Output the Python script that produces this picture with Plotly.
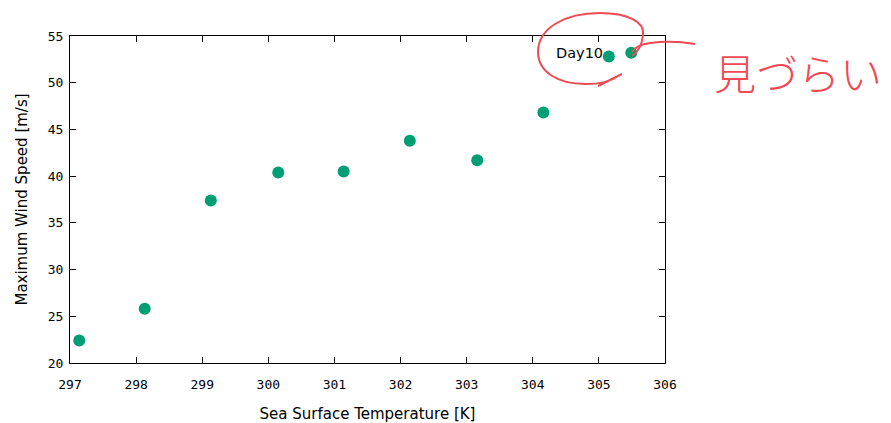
import plotly.graph_objects as go

sst = [297.14, 298.13, 299.13, 300.15, 301.14, 302.14, 303.16, 304.16, 305.15, 305.49]
wind = [22.4, 25.8, 37.4, 40.4, 40.5, 43.8, 41.7, 46.8, 52.8, 53.2]
label_text = "Day10"
note_text = "見づらい"

W, H = 891, 423
L, R, T, B = 70, 226, 36, 60
pw, ph = W - L - R, H - T - B

def px(x):
    return (x - L) / pw

def py(y):
    return (H - B - y) / ph

def P(x, y):
    return "{:.4f},{:.4f}".format(px(x), py(y))

fig = go.Figure()
fig.add_trace(go.Scatter(x=sst, y=wind, mode="markers",
                         marker=dict(color="#009e73", size=12, line=dict(width=0)),
                         showlegend=False, hoverinfo="skip"))

tickfont = dict(family="DejaVu Sans Mono", size=13, color="black")
axis_common = dict(showgrid=False, zeroline=False, showline=True, linecolor="black",
                   linewidth=1, mirror="ticks", ticks="inside", ticklen=6,
                   tickcolor="black", tickfont=tickfont, automargin=False)
fig.update_xaxes(range=[297, 306], dtick=1, tick0=297, ticklabelstandoff=9,
                 title=dict(text="Sea Surface Temperature [K]",
                            font=dict(family="DejaVu Sans", size=15, color="black"), standoff=20),
                 **axis_common)
fig.update_yaxes(range=[20, 55], dtick=5, tick0=20, ticklabelstandoff=3,
                 title=dict(text="Maximum Wind Speed [m/s]",
                            font=dict(family="DejaVu Sans", size=15, color="black"), standoff=16),
                 **axis_common)

fig.add_annotation(x=sst[-1], y=wind[-1], text=label_text, showarrow=False,
                   xanchor="right", yanchor="middle", xshift=-26, yshift=0,
                   font=dict(family="DejaVu Sans", size=14.5, color="black"))

red = "#f04a55"
ell = ("M " + P(620, 75) +
       " C " + P(610, 82) + " " + P(600, 84) + " " + P(585, 84) +
       " C " + P(558, 84) + " " + P(538, 72) + " " + P(538, 52) +
       " C " + P(538, 28) + " " + P(565, 13) + " " + P(600, 13) +
       " C " + P(628, 13) + " " + P(645, 22) + " " + P(643, 35) +
       " C " + P(642, 45) + " " + P(638, 52) + " " + P(632, 56) +
       " M " + P(598, 86) + " L " + P(622, 74))
fig.add_shape(type="path", xref="paper", yref="paper", path=ell,
              line=dict(color=red, width=2), layer="above")
line2 = ("M " + P(632, 52) + " Q " + P(636, 45) + " " + P(650, 43) +
         " Q " + P(672, 40) + " " + P(695, 44))
fig.add_shape(type="path", xref="paper", yref="paper", path=line2,
              line=dict(color=red, width=2), layer="above")

fig.add_annotation(x=px(712), y=py(71), xref="paper", yref="paper", text=note_text,
                   showarrow=False, xanchor="left", yanchor="middle",
                   font=dict(family="Noto Sans CJK JP", size=42, color=red, weight=300))

fig.update_layout(width=W, height=H, margin=dict(l=L, r=R, t=T, b=B),
                  plot_bgcolor="white", paper_bgcolor="white")
fig.write_html("out.html")
